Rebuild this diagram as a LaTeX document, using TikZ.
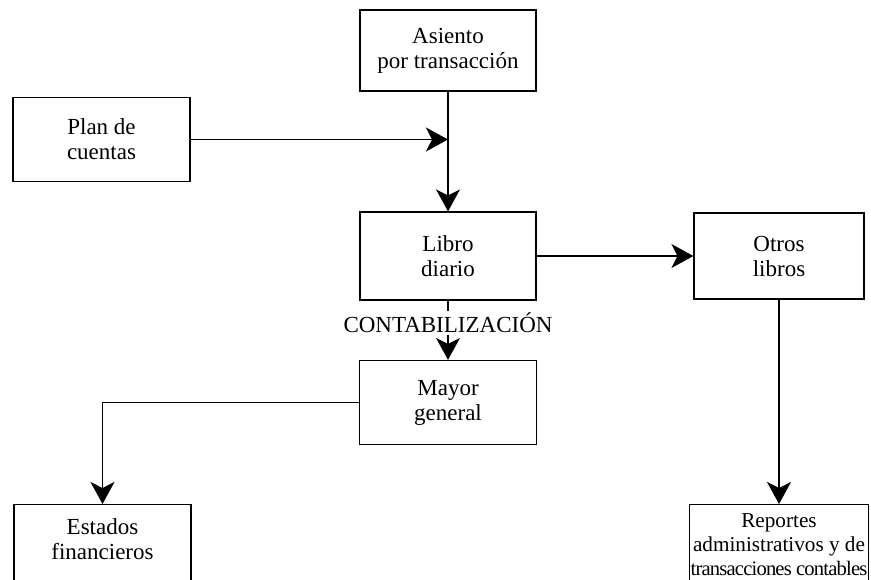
\documentclass[tikz,border=0pt]{standalone}
\usepackage{fontspec}
\setmainfont{Liberation Serif}
\usetikzlibrary{positioning,calc,arrows.meta}

\tikzset{
  caja/.style={draw, line width=0.6pt, align=center, inner sep=1pt,
    minimum width=88pt, minimum height=42pt, font=\fontsize{11.5}{12.5}\selectfont},
  flecha/.style={line width=0.6pt, -{Stealth[length=11pt,width=12pt,inset=3pt]}}
}

\begin{document}
\begin{tikzpicture}[x=0.5pt,y=-0.5pt]
    % page frame
    \useasboundingbox (0,0) rectangle (871,579);

    % Boxes
    \node[caja, minimum height=40.5pt] (asiento) at (448, 50.5) {Asiento\\por transacción};
    \node[caja, minimum width=88.5pt] (plan) at (101.5, 139.5) {Plan de\\cuentas};
    \node[caja, minimum height=44pt] (libro) at (448, 256) {Libro\\diario};
    \node[caja, minimum width=85pt, minimum height=43pt] (otros) at (779, 256) {Otros\\libros};
    \node[caja, minimum width=88.5pt] (mayor) at (448, 402.5) {Mayor\\general};

    % bottom boxes, cut by the page edge
    \node[caja, minimum width=88.5pt, minimum height=50pt, anchor=north, text depth=16pt]
      (estados) at (102.5, 504) {Estados\\financieros};
    \node[caja, minimum width=88.5pt, minimum height=40pt, anchor=north, inner sep=0.5pt,
      font=\fontsize{10.6}{12}\selectfont] (reportes) at (779, 504)
      {Reportes\\administrativos y de\\{\addfontfeature{LetterSpace=-4}\fontsize{10.3}{12}\selectfont transacciones contables}};

    % Connectors
    \coordinate (junta) at (asiento.south |- plan.east);
    \draw[flecha] (plan.east) -- (junta);
    \draw[flecha] (asiento.south) -- (libro.north);
    \draw[flecha] (libro.east) -- (otros.west);
    \draw[flecha] (libro.south) -- node[fill=white, inner sep=1pt,
      font=\fontsize{11.5}{12}\selectfont, pos=0.37] (conta) {CONTABILIZACIÓN} (mayor.north);
    \draw[flecha] (mayor.west) -| (estados.north);
    \draw[flecha] (otros.south) -- (reportes.north);
\end{tikzpicture}
\end{document}
